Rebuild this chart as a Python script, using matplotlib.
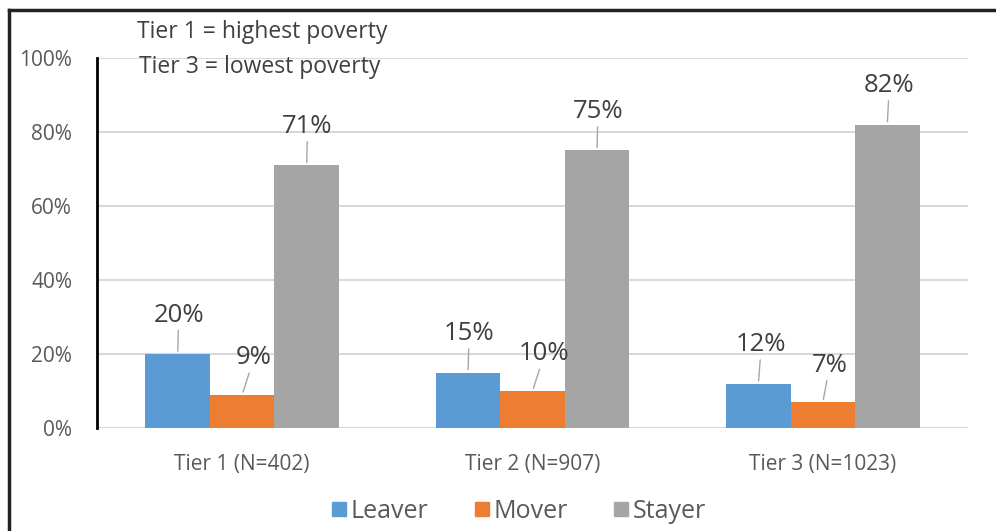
import matplotlib.pyplot as plt
import numpy as np
from matplotlib.lines import Line2D
from matplotlib.ticker import PercentFormatter

plt.rcParams['font.family'] = ['Open Sans', 'DejaVu Sans']

tiers = ['Tier 1 (N=402)', 'Tier 2 (N=907)', 'Tier 3 (N=1023)']
series = ['Leaver', 'Mover', 'Stayer']
leaver = [20, 15, 12]
mover = [9, 10, 7]
stayer = [71, 75, 82]

colors = ['#5b9bd5', '#ed7d31', '#a5a5a5']
# label offsets (pixels) from bar top, per series
label_dx = [[1, 1, 3], [12, 12, 7], [1, 1, 2]]
label_dy = [39, 37, 39]

fig = plt.figure(figsize=(9.96, 5.31), dpi=100)
ax = fig.add_axes([97/996, 1 - 428/531, (968 - 97)/996, (428 - 58)/531])

x = np.arange(len(tiers))
w = 0.222
for i, (name, vals) in enumerate(zip(series, [leaver, mover, stayer])):
    xs = x + (i - 1) * w
    ax.bar(xs, vals, w, color=colors[i], zorder=2)
    for j, (xi, v) in enumerate(zip(xs, vals)):
        ax.annotate(f'{v}%', xy=(xi, v), xytext=(label_dx[i][j], label_dy[i]),
                    textcoords='offset pixels', ha='center', va='center',
                    fontsize=18.5, color='#404040',
                    arrowprops=dict(arrowstyle='-', color='#a6a6a6', lw=1,
                                    shrinkA=0, shrinkB=2))

ax.set_xlim(-0.5, 2.5)
ax.set_ylim(0, 100)
ax.set_yticks(np.arange(0, 101, 20))
ax.yaxis.set_major_formatter(PercentFormatter(decimals=0))
ax.set_xticks(x)
ax.set_xticklabels(tiers)
ax.tick_params(axis='both', length=0, labelsize=15, labelcolor='#595959')
ax.tick_params(axis='y', pad=18)
ax.tick_params(axis='x', pad=19)
ax.grid(axis='y', color='#d9d9d9', lw=1.5, zorder=0)
for s in ['top', 'right', 'bottom']:
    ax.spines[s].set_visible(False)
ax.spines['left'].set_color('black')
ax.spines['left'].set_linewidth(2)
ax.spines['left'].set_zorder(3)

handles = [Line2D([], [], marker='s', ls='', markersize=10, color=c) for c in colors]
fig.legend(handles, series, loc='center', bbox_to_anchor=(518/996, 1 - 511/531),
           ncol=3, frameon=False, fontsize=18, labelcolor='#595959',
           handletextpad=0.1, columnspacing=1.8, handlelength=0.7)

fig.text(262/996, 1 - 32/531, 'Tier 1 = highest poverty', ha='center', va='center',
         fontsize=16.5, color='#404040')
fig.text(260/996, 1 - 67/531, 'Tier 3 = lowest poverty', ha='center', va='center',
         fontsize=16.5, color='#404040')

# outer frame: top and left edges only
fig.add_artist(Line2D([9/996, 1], [1 - 10/531, 1 - 10/531], color='#222222', lw=2.5,
                      transform=fig.transFigure))
fig.add_artist(Line2D([9/996, 9/996], [0, 1 - 10/531], color='#222222', lw=2.5,
                      transform=fig.transFigure))

fig.savefig('out.png', dpi=100)
